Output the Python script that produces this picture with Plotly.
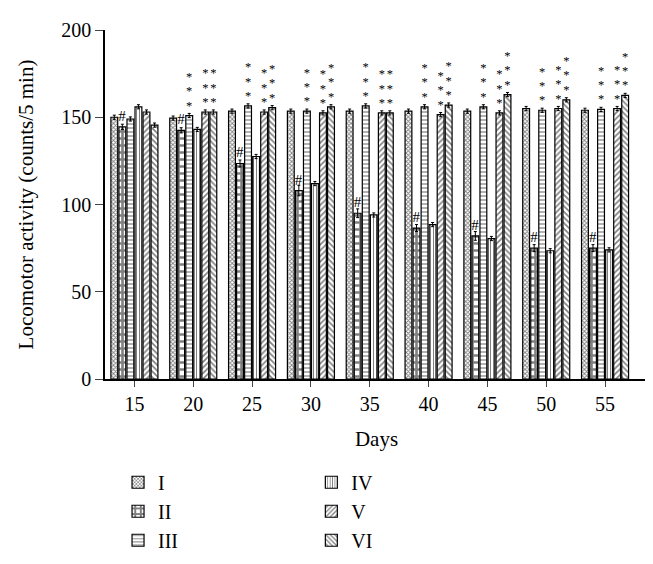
import plotly.graph_objects as go

days = [15, 20, 25, 30, 35, 40, 45, 50, 55]
series_names = ["I", "II", "III", "IV", "V", "VI"]
vals_I = [150, 149.5, 153.5, 153.5, 153.5, 153.5, 153.5, 155, 154]
vals_II = [144.5, 142.5, 123.5, 108, 95, 86.5, 82, 75, 75]
vals_III = [149, 151, 156.5, 153.5, 156.5, 156, 156, 154, 154.5]
vals_IV = [156, 143, 127.5, 112, 94, 88.5, 80.5, 73.5, 74]
vals_V = [153, 153, 153, 152.5, 152.5, 151.5, 152.5, 155, 155]
vals_VI = [145.5, 153, 155.5, 156, 152.5, 157, 163, 160, 162.5]
err = [1.2, 1.2, 1.2, 1.2, 1.2, 1.2, 1.2, 1.2, 1.2]
err_II = [1.5, 1.5, 2, 3, 2.5, 2, 2.5, 2, 2]

# significance marks per series ("#" vs control, stacked asterisks vs group II)
marks_I = [""] * 9
marks_II = ["#"] * 9
marks_III = [""] + ["***"] * 8
marks_IV = [""] * 9
marks_V = [""] + ["***"] * 8
marks_VI = [""] + ["***"] * 8

values = [vals_I, vals_II, vals_III, vals_IV, vals_V, vals_VI]
errors = [err, err_II, err, err, err, err]
marks = [marks_I, marks_II, marks_III, marks_IV, marks_V, marks_VI]
patterns = [
    dict(shape="x", size=3, solidity=0.5),
    dict(shape="+", size=7, solidity=0.6),
    dict(shape="-", size=4, solidity=0.3),
    dict(shape="|", size=3, solidity=0.35),
    dict(shape="/", size=4, solidity=0.4),
    dict(shape="\\", size=4, solidity=0.4),
]
legend_of = ["legend", "legend", "legend", "legend2", "legend2", "legend2"]

FONT = "Liberation Serif"


def render_mark(m):
    """Stack asterisks vertically; '#' stays as is."""
    if not m:
        return ""
    if m == "#":
        return '<span style="font-size:15px">#</span>'
    return "<br>".join('<span style="font-size:12.5px">*</span>' for _ in m)


fig = go.Figure()
for name, v, e, mk, pat, lg in zip(series_names, values, errors, marks, patterns, legend_of):
    fig.add_trace(go.Bar(
        x=days, y=v, name=name,
        marker=dict(color="white", line=dict(color="black", width=1.2),
                    pattern=dict(fgcolor="black", bgcolor="white", **pat)),
        error_y=dict(type="data", array=e, color="black", thickness=1, width=1.5),
        text=[render_mark(m) for m in mk], textposition="outside",
        constraintext="none", cliponaxis=False,
        outsidetextfont=dict(family=FONT, size=11, color="black"),
        textfont=dict(family=FONT, size=11, color="black"),
        legend=lg,
    ))

fig.update_layout(
    width=653, height=564,
    margin=dict(l=97, r=13, t=22, b=178),
    paper_bgcolor="white", plot_bgcolor="white",
    font=dict(family=FONT, size=20, color="black"),
    barmode="group", bargap=0.18, bargroupgap=0.15,
    xaxis=dict(range=[12.5, 58.65], tickvals=days, ticks="outside", ticklen=6,
               showline=True, linecolor="black", linewidth=1.5, showgrid=False,
               zeroline=False, title=dict(text="Days", standoff=18, font=dict(size=21)),
               tickfont=dict(size=20)),
    yaxis=dict(range=[0, 200], tickvals=[0, 50, 100, 150, 200], ticks="outside",
               ticklen=8, showline=True, linecolor="black", linewidth=1.5,
               showgrid=False, zeroline=False,
               title=dict(text="Locomotor activity (counts/5 min)", standoff=22,
                          font=dict(size=21)),
               tickfont=dict(size=20)),
    legend=dict(x=0.024, y=-0.24, xanchor="left", yanchor="top",
                font=dict(size=20), tracegroupgap=0, bgcolor="rgba(0,0,0,0)"),
    legend2=dict(x=0.38, y=-0.24, xanchor="left", yanchor="top",
                 font=dict(size=20), tracegroupgap=0, bgcolor="rgba(0,0,0,0)"),
)

fig.write_html("out.html")
